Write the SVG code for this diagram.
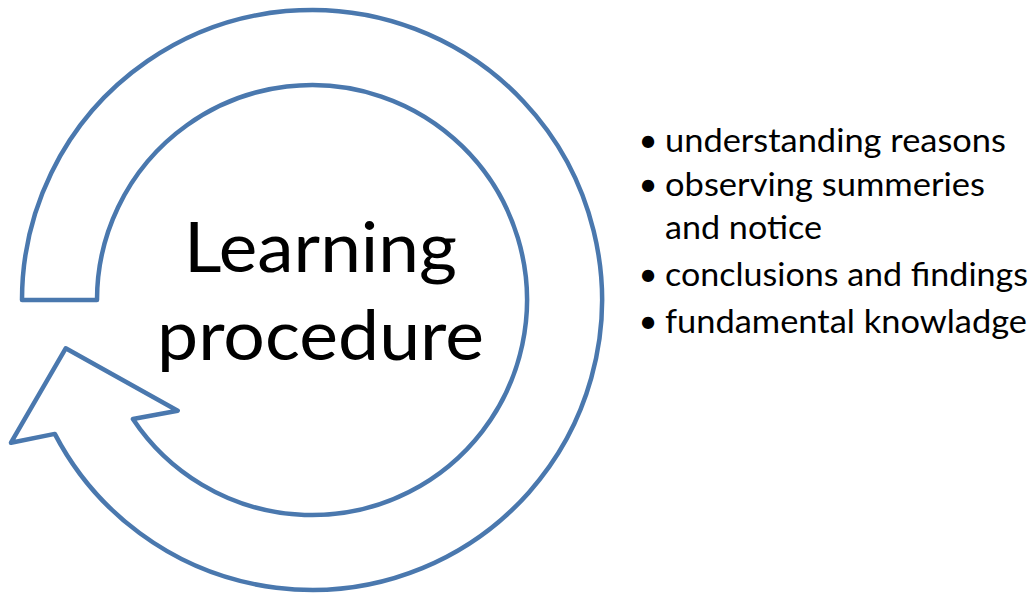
<svg xmlns="http://www.w3.org/2000/svg" width="1034" height="594" viewBox="0 0 1034 594">
<style>
.arrow{fill:#ffffff;stroke:#4a78ae;stroke-width:4.5;stroke-linejoin:round}
.t{font-family:Lato,"Open Sans","Liberation Sans",sans-serif;fill:#000000}
.big{font-size:69px}
.item{font-size:33px}
</style>
<rect x="0" y="0" width="1034" height="594" fill="#ffffff"/>
<g id="cycle">
<path class="arrow" d="M22,300 A290,290 0 1 1 54.8,433.9 L11,442.7 L65.7,348.3 L177.7,410.7 L132.9,419 A215,215 0 1 0 97,300 Z"/>
<text class="t big" x="184" y="272" textLength="273" lengthAdjust="spacingAndGlyphs">Learning</text>
<text class="t big" x="157" y="360" textLength="327" lengthAdjust="spacingAndGlyphs">procedure</text>
</g>
<g id="list">
<text class="t item" x="648" y="152" text-anchor="middle">•</text>
<text class="t item" x="665" y="152" textLength="341" lengthAdjust="spacingAndGlyphs">understanding reasons</text>
<text class="t item" x="648" y="196" text-anchor="middle">•</text>
<text class="t item" x="665" y="196" textLength="320" lengthAdjust="spacingAndGlyphs">observing summeries</text>
<text class="t item" x="665" y="239" textLength="157" lengthAdjust="spacingAndGlyphs">and notice</text>
<text class="t item" x="648" y="286" text-anchor="middle">•</text>
<text class="t item" x="665" y="286" textLength="363" lengthAdjust="spacingAndGlyphs">conclusions and findings</text>
<text class="t item" x="648" y="333" text-anchor="middle">•</text>
<text class="t item" x="665" y="333" textLength="362" lengthAdjust="spacingAndGlyphs">fundamental knowladge</text>
</g>
</svg>
